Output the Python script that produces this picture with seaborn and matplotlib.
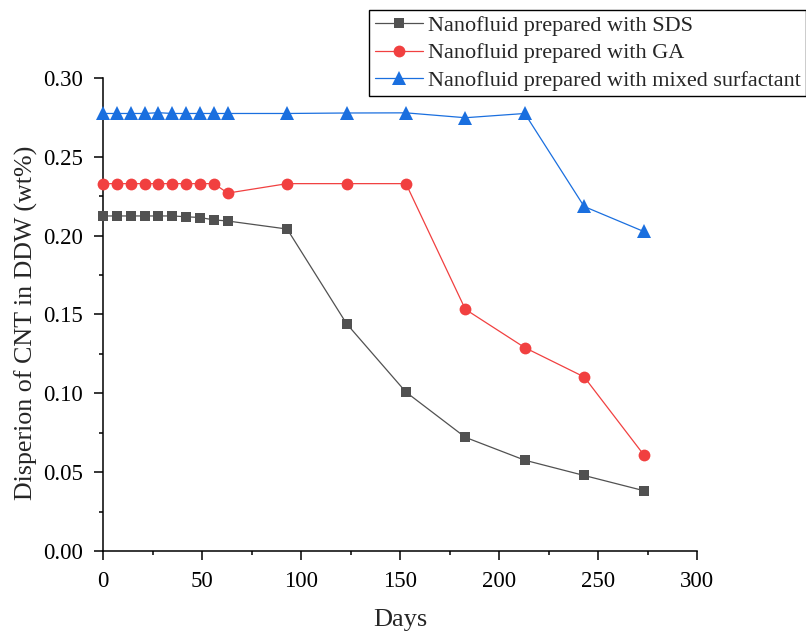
import matplotlib
matplotlib.use("Agg")
import matplotlib.pyplot as plt
import seaborn as sns
import pandas as pd
from matplotlib.ticker import MultipleLocator

days = [0, 7, 14, 21, 28, 35, 42, 49, 56, 63, 93, 123, 153, 183, 213, 243, 273]
sds = [0.2125, 0.2125, 0.2125, 0.2125, 0.2125, 0.2125, 0.212, 0.2115, 0.210, 0.2093,
       0.2042, 0.1442, 0.1008, 0.0721, 0.0576, 0.0479, 0.0383]
ga = [0.233, 0.233, 0.233, 0.233, 0.233, 0.233, 0.233, 0.233, 0.233, 0.227,
      0.233, 0.233, 0.233, 0.1533, 0.1290, 0.1104, 0.0612]
mixed = [0.2775, 0.2775, 0.2775, 0.2775, 0.278, 0.2775, 0.2775, 0.2775, 0.2775, 0.2775,
         0.2775, 0.2778, 0.2779, 0.2748, 0.2775, 0.2185, 0.2027]
labels = ["Nanofluid prepared with SDS", "Nanofluid prepared with GA",
          "Nanofluid prepared with mixed surfactant"]
colors = ["#515151", "#F14040", "#1A6FDF"]
markers = ["s", "o", "^"]
msizes = [7.5, 8.5, 9.5]

sns.set_style("ticks")
plt.rcParams['font.family'] = ['Liberation Serif', 'DejaVu Serif']

fig = plt.figure(figsize=(8.06, 6.35), dpi=100)
ax = fig.add_axes([103/806, 1-551/635, (697-103)/806, (551-78)/635])

series = [sds, ga, mixed]
for vals, lab, c, m, ms in zip(series, labels, colors, markers, msizes):
    df = pd.DataFrame({"Days": days, "val": vals})
    sns.lineplot(data=df, x="Days", y="val", ax=ax, color=c, marker=m,
                 markersize=ms, markeredgewidth=0, linewidth=0.9, label=lab,
                 clip_on=False, zorder=3)

ax.set_xlim(0, 300)
ax.set_ylim(0, 0.30)
ax.xaxis.set_major_locator(MultipleLocator(50))
ax.xaxis.set_minor_locator(MultipleLocator(25))
ax.yaxis.set_major_locator(MultipleLocator(0.05))
ax.yaxis.set_minor_locator(MultipleLocator(0.025))
ax.yaxis.set_major_formatter(matplotlib.ticker.FormatStrFormatter('%.2f'))
for s in ["top", "right"]:
    ax.spines[s].set_visible(False)
for s in ["left", "bottom"]:
    ax.spines[s].set_linewidth(1.1)
    ax.spines[s].set_color("black")
ax.tick_params(which="major", direction="out", length=6.5, width=1.1,
               labelsize=16.5, colors="black")
ax.tick_params(which="minor", direction="out", length=3.2, width=1.1, colors="black")
ax.tick_params(axis="x", which="major", pad=8)
ax.tick_params(axis="y", which="major", pad=8)

ax.set_xlabel("Days", fontsize=19)
ax.set_ylabel("Disperion of CNT in DDW (wt%)", fontsize=18.7)
ax.xaxis.label.set_va("center")
ax.xaxis.set_label_coords(0.5, (551-620)/473)
ax.yaxis.label.set_va("center")
ax.yaxis.set_label_coords((26-103)/594, (551-323)/473)

leg = ax.legend(loc="upper left", bbox_to_anchor=(369/806, 1-10/635),
                bbox_transform=fig.transFigure, fontsize=16, frameon=True,
                fancybox=False, edgecolor="black", framealpha=1,
                handlelength=2.2, handletextpad=0.2, borderpad=0.25,
                labelspacing=0.3, borderaxespad=0)
leg.get_frame().set_linewidth(1.0)

fig.savefig("out.png", dpi=100)
